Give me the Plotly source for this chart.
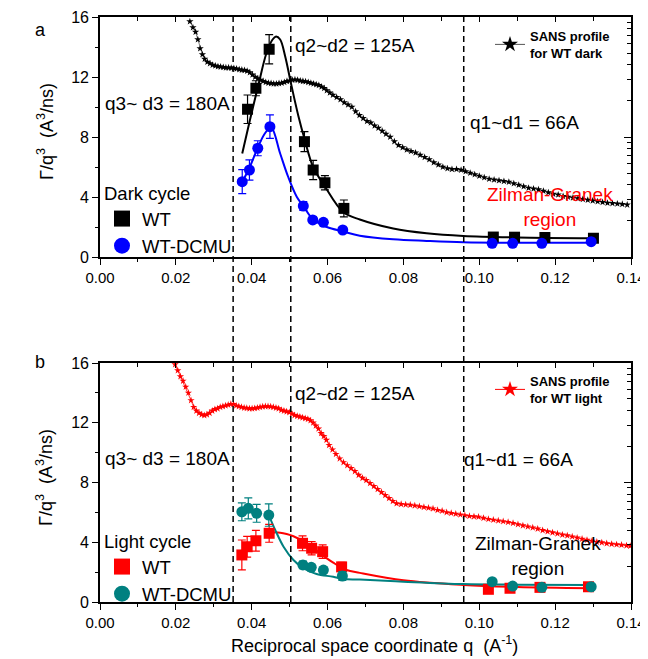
import plotly.graph_objects as go

# ---------------- data ----------------
# Dark cycle (panel a)
dark_wt_q = [0.0389, 0.0411, 0.0446, 0.0539, 0.0562, 0.0593, 0.0643, 0.1037, 0.1093, 0.1173, 0.1301]
dark_wt_y = [9.85, 11.25, 13.85, 7.69, 5.80, 4.95, 3.24, 1.33, 1.32, 1.30, 1.25]
dark_wt_err = [0.95, 0.5, 0.98, 0.67, 0.64, 0.47, 0.56, 0.12, 0.1, 0.1, 0.1]

dark_dcmu_q = [0.0375, 0.0394, 0.0416, 0.0448, 0.0536, 0.0561, 0.0589, 0.0640, 0.1034, 0.1088, 0.1165, 0.1295]
dark_dcmu_y = [5.02, 5.80, 7.25, 8.69, 3.40, 2.47, 2.31, 1.80, 0.91, 0.91, 0.91, 1.02]
dark_dcmu_err = [0.8, 0.67, 0.5, 0.78, 0.3, 0.2, 0.15, 0.15, 0.08, 0.08, 0.08, 0.08]

dark_wt_fit_q = [0.0375, 0.0395, 0.0417, 0.0439, 0.0455, 0.0464, 0.0475, 0.0488, 0.0505, 0.0523,
                 0.0540, 0.0562, 0.0593, 0.0641, 0.0685, 0.0773, 0.0861, 0.0958, 0.1100, 0.1300]
dark_wt_fit_y = [6.9, 9.1, 11.4, 13.6, 14.5, 14.7, 14.5, 13.4, 11.4, 9.4,
                 7.8, 6.0, 4.7, 3.0, 2.5, 1.9, 1.58, 1.4, 1.3, 1.25]

dark_dcmu_fit_q = [0.0375, 0.0395, 0.0417, 0.0435, 0.0451, 0.0475, 0.0496, 0.0519, 0.0536, 0.0562,
                   0.0598, 0.0641, 0.0685, 0.0773, 0.0861, 0.0958, 0.1100, 0.1300]
dark_dcmu_fit_y = [5.0, 6.0, 7.35, 8.25, 8.65, 6.9, 5.35, 4.0, 3.4, 2.5,
                   2.0, 1.7, 1.42, 1.18, 1.07, 0.98, 0.95, 0.95]

sans_dark_q = [0.0237, 0.0245, 0.0252, 0.0258, 0.0264, 0.0270, 0.0276, 0.0283, 0.0290, 0.0297,
               0.0304, 0.0311, 0.0318, 0.0325, 0.0332, 0.0339, 0.0346, 0.0353, 0.0360, 0.0367,
               0.0374, 0.0381, 0.0388, 0.0395, 0.0402, 0.0409, 0.0416, 0.0423, 0.0430, 0.0437,
               0.0444, 0.0451, 0.0458, 0.0465, 0.0472, 0.0479, 0.0486, 0.0493, 0.0500, 0.0507,
               0.0514, 0.0521, 0.0528, 0.0535, 0.0542, 0.0549, 0.0556, 0.0563, 0.0570, 0.0577,
               0.0584, 0.0591, 0.0598, 0.0606, 0.0614, 0.0624, 0.0634, 0.0644, 0.0654, 0.0664,
               0.0674, 0.0684, 0.0694, 0.0704, 0.0714, 0.0724, 0.0734, 0.0744, 0.0754, 0.0765,
               0.0776, 0.0787, 0.0798, 0.0809, 0.0820, 0.0832, 0.0844, 0.0856, 0.0868, 0.0880,
               0.0892, 0.0904, 0.0916, 0.0928, 0.0940, 0.0952, 0.0964, 0.0976, 0.0988, 0.1000,
               0.1013, 0.1026, 0.1039, 0.1052, 0.1065, 0.1078, 0.1091, 0.1104, 0.1117, 0.1130,
               0.1143, 0.1156, 0.1169, 0.1182, 0.1195, 0.1208, 0.1221, 0.1234, 0.1247, 0.1260,
               0.1273, 0.1286, 0.1299, 0.1312, 0.1325, 0.1338, 0.1351, 0.1364, 0.1377, 0.1390]
sans_dark_y = [15.7, 15.3, 15.0, 14.5, 13.9, 13.5, 13.2, 13.0, 12.9, 12.8,
               12.75, 12.7, 12.68, 12.65, 12.62, 12.62, 12.6, 12.58, 12.55, 12.5,
               12.47, 12.45, 12.4, 12.3, 12.15, 12.0, 11.9, 11.8, 11.72, 11.65,
               11.6, 11.58, 11.55, 11.55, 11.58, 11.6, 11.65, 11.72, 11.75, 11.8,
               11.82, 11.8, 11.75, 11.72, 11.7, 11.65, 11.6, 11.55, 11.5, 11.45,
               11.35, 11.25, 11.1, 10.95, 10.8, 10.65, 10.5, 10.3, 10.15, 10.0,
               9.7, 9.45, 9.25, 9.05, 8.95, 8.75, 8.6, 8.4, 8.2, 8.0,
               7.7, 7.45, 7.3, 7.15, 7.05, 6.95, 6.8, 6.65, 6.5, 6.3,
               6.15, 6.0, 5.9, 5.85, 5.85, 5.8, 5.7, 5.6, 5.5, 5.4,
               5.3, 5.2, 5.15, 5.1, 5.05, 5.0, 4.9, 4.8, 4.7, 4.6,
               4.55, 4.5, 4.4, 4.3, 4.2, 4.15, 4.05, 4.0, 3.95, 3.9,
               3.85, 3.8, 3.75, 3.7, 3.65, 3.6, 3.58, 3.55, 3.52, 3.48]

# Light cycle (panel b)
light_wt_q = [0.0374, 0.0388, 0.0411, 0.0446, 0.0534, 0.0558, 0.0587, 0.0637, 0.1024, 0.1081, 0.1160, 0.1288]
light_wt_y = [3.15, 3.70, 4.10, 4.60, 3.93, 3.60, 3.37, 2.35, 0.85, 0.92, 0.98, 1.02]
light_wt_err = [1.0, 0.7, 0.7, 0.6, 0.5, 0.45, 0.45, 0.3, 0.15, 0.12, 0.12, 0.25]

light_dcmu_q = [0.0374, 0.0391, 0.0413, 0.0445, 0.0535, 0.0557, 0.0589, 0.0639, 0.1034, 0.1088, 0.1165, 0.1295]
light_dcmu_y = [6.04, 6.27, 5.94, 5.82, 2.48, 2.32, 2.14, 1.74, 1.36, 1.07, 0.98, 1.02]
light_dcmu_err = [0.6, 0.7, 0.6, 0.75, 0.25, 0.2, 0.2, 0.3, 0.1, 0.1, 0.1, 0.1]

light_wt_fit_q = [0.0444, 0.0460, 0.0475, 0.0492, 0.0510, 0.0545, 0.0580, 0.0615, 0.0650, 0.0685,
                  0.0800, 0.0958, 0.1100, 0.1293]
light_wt_fit_y = [4.6, 4.66, 4.64, 4.55, 4.4, 3.93, 3.26, 2.63, 2.14, 1.95,
                  1.45, 1.14, 1.0, 0.92]

light_dcmu_fit_q = [0.0445, 0.0462, 0.0484, 0.0510, 0.0536, 0.0571, 0.0615, 0.0641, 0.0685, 0.0800,
                    0.0958, 0.1100, 0.1293]
light_dcmu_fit_y = [5.82, 4.82, 3.7, 2.81, 2.26, 1.87, 1.69, 1.54, 1.5, 1.36,
                    1.2, 1.16, 1.14]

sans_light_q = [0.0198, 0.0205, 0.0212, 0.0219, 0.0226, 0.0233, 0.0240, 0.0247, 0.0254, 0.0261,
                0.0268, 0.0275, 0.0282, 0.0289, 0.0296, 0.0303, 0.0310, 0.0317, 0.0324, 0.0331,
                0.0338, 0.0345, 0.0352, 0.0359, 0.0366, 0.0373, 0.0380, 0.0387, 0.0394, 0.0401,
                0.0408, 0.0415, 0.0422, 0.0429, 0.0436, 0.0443, 0.0450, 0.0457, 0.0464, 0.0471,
                0.0478, 0.0485, 0.0492, 0.0499, 0.0506, 0.0513, 0.0520, 0.0527, 0.0534, 0.0541,
                0.0548, 0.0555, 0.0562, 0.0569, 0.0576, 0.0583, 0.0590, 0.0597, 0.0604, 0.0613,
                0.0622, 0.0632, 0.0642, 0.0652, 0.0662, 0.0672, 0.0682, 0.0692, 0.0702, 0.0712,
                0.0722, 0.0732, 0.0742, 0.0752, 0.0762, 0.0772, 0.0782, 0.0794, 0.0806, 0.0818,
                0.0830, 0.0842, 0.0854, 0.0866, 0.0878, 0.0890, 0.0902, 0.0914, 0.0926, 0.0938,
                0.0950, 0.0962, 0.0974, 0.0986, 0.0998, 0.1011, 0.1024, 0.1037, 0.1050, 0.1063,
                0.1076, 0.1089, 0.1102, 0.1115, 0.1128, 0.1141, 0.1154, 0.1167, 0.1180, 0.1193,
                0.1206, 0.1219, 0.1232, 0.1245, 0.1258, 0.1271, 0.1284, 0.1297, 0.1310, 0.1323,
                0.1336, 0.1349, 0.1362, 0.1375, 0.1388, 0.1398]
sans_light_y = [15.9, 15.5, 15.1, 14.8, 14.4, 14.0, 13.5, 13.05, 12.8, 12.65,
                12.55, 12.5, 12.55, 12.65, 12.8, 12.9, 12.95, 13.05, 13.1, 13.15,
                13.2, 13.25, 13.25, 13.15, 13.1, 13.05, 13.0, 12.98, 12.95, 12.95,
                12.97, 13.0, 13.05, 13.08, 13.1, 13.1, 13.08, 13.05, 13.0, 12.95,
                12.85, 12.8, 12.75, 12.7, 12.6, 12.5, 12.45, 12.4, 12.35, 12.3,
                12.25, 12.15, 12.0, 11.8, 11.6, 11.3, 11.1, 10.85, 10.5, 10.2,
                9.9, 9.6, 9.35, 9.15, 8.95, 8.75, 8.5, 8.3, 8.15, 7.95,
                7.75, 7.55, 7.35, 7.15, 6.95, 6.75, 6.6, 6.55, 6.52, 6.5,
                6.45, 6.4, 6.35, 6.3, 6.25, 6.15, 6.1, 6.0, 5.95, 5.9,
                5.85, 5.8, 5.75, 5.72, 5.7, 5.62, 5.55, 5.5, 5.45, 5.4,
                5.35, 5.28, 5.2, 5.12, 5.05, 4.98, 4.9, 4.8, 4.72, 4.65,
                4.58, 4.5, 4.45, 4.38, 4.3, 4.22, 4.15, 4.08, 4.02, 3.98,
                3.92, 3.88, 3.85, 3.82, 3.78, 3.75]

# characteristic q positions (dashed lines)
q_lines = [0.0351, 0.0503, 0.0959]

x_ticks = [0.00, 0.02, 0.04, 0.06, 0.08, 0.10, 0.12, 0.14]
x_ticklabels = ["0.00", "0.02", "0.04", "0.06", "0.08", "0.10", "0.12", "0.14"]
y_ticks = [0, 4, 8, 12, 16]
y_ticklabels = ["0", "4", "8", "12", "16"]

# ---------------- figure ----------------
# the page body has an 8px margin, so the figure is drawn 8px smaller and
# all target window positions are shifted by that offset
OFF = 8
W, H = 648 - OFF, 659 - OFF
FONT = "Liberation Sans, Arial, sans-serif"


def px(x):
    return (x - OFF) / W


def py(y):
    return 1 - (y - OFF) / H


BLACK = "#000000"
BLUE = "#0000FF"
RED = "#FF0000"
TEAL = "#008080"

fig = go.Figure()


def add_panel(xa, ya, data_sets, fits, sans, legend_main, legend_sans, sans_color, sans_line, sans_name, cyc_items):
    # SANS profile
    fig.add_trace(go.Scatter(x=sans[0], y=sans[1], mode="lines+markers", xaxis=xa, yaxis=ya,
                             line=dict(color=sans_line, width=0.8),
                             marker=dict(symbol="star", size=5.5, color=sans_color, line=dict(width=0)),
                             showlegend=False, hoverinfo="skip"))
    # fits
    for (fq, fy, col) in fits:
        fig.add_trace(go.Scatter(x=fq, y=fy, mode="lines", xaxis=xa, yaxis=ya,
                                 line=dict(color=col, width=2, shape="spline", smoothing=1.0),
                                 showlegend=False, hoverinfo="skip"))
    # data with error bars
    for (q, y, e, col, sym) in data_sets:
        fig.add_trace(go.Scatter(x=q, y=y, mode="markers", xaxis=xa, yaxis=ya,
                                 error_y=dict(type="data", array=e, visible=True, color=col,
                                              thickness=1.2, width=4),
                                 marker=dict(symbol=sym, size=11, color=col, line=dict(width=0)),
                                 showlegend=False, hoverinfo="skip"))
    # legend proxies
    for (name, col, sym) in cyc_items:
        fig.add_trace(go.Scatter(x=[None], y=[None], mode="markers", xaxis=xa, yaxis=ya, name=name,
                                 marker=dict(symbol=sym, size=16, color=col, line=dict(width=0)),
                                 legend=legend_main, showlegend=True))
    fig.add_trace(go.Scatter(x=[None], y=[None], mode="lines+markers", xaxis=xa, yaxis=ya, name=sans_name,
                             line=dict(color=sans_line, width=1),
                             marker=dict(symbol="star", size=12, color=sans_color, line=dict(width=0)),
                             legend=legend_sans, showlegend=True))


add_panel("x", "y",
          [(dark_wt_q, dark_wt_y, dark_wt_err, BLACK, "square"),
           (dark_dcmu_q, dark_dcmu_y, dark_dcmu_err, BLUE, "circle")],
          [(dark_wt_fit_q, dark_wt_fit_y, BLACK), (dark_dcmu_fit_q, dark_dcmu_fit_y, BLUE)],
          (sans_dark_q, sans_dark_y), "legend", "legend2", BLACK, "#555555",
          "<b>SANS profile<br>for WT dark</b>",
          [("WT", BLACK, "square"), ("WT-DCMU", BLUE, "circle")])

add_panel("x2", "y2",
          [(light_wt_q, light_wt_y, light_wt_err, RED, "square"),
           (light_dcmu_q, light_dcmu_y, light_dcmu_err, TEAL, "circle")],
          [(light_wt_fit_q, light_wt_fit_y, RED), (light_dcmu_fit_q, light_dcmu_fit_y, TEAL)],
          (sans_light_q, sans_light_y), "legend3", "legend4", RED, RED,
          "<b>SANS profile<br>for WT light</b>",
          [("WT", RED, "square"), ("WT-DCMU", TEAL, "circle")])

# empty traces to activate the mirror axes
for xa, ya in [("x3", "y3"), ("x4", "y4")]:
    fig.add_trace(go.Scatter(x=[], y=[], xaxis=xa, yaxis=ya, showlegend=False, hoverinfo="skip"))

XDOM = [px(100), px(631)]
YDOM_A = [py(257), py(17)]
YDOM_B = [py(602), py(363)]

tickfont = dict(family=FONT, size=15, color="black")


def xaxis_main(anchor):
    return dict(domain=XDOM, anchor=anchor, range=[0, 0.14], tickmode="array", tickvals=x_ticks,
                ticktext=x_ticklabels, ticks="outside", ticklen=6, tickwidth=1.3, tickcolor="black",
                minor=dict(dtick=0.01, tick0=0, ticks="outside", ticklen=3.5, tickwidth=1.3, tickcolor="black"),
                showline=True, linewidth=1.6, linecolor="black", showgrid=False, zeroline=False,
                tickfont=tickfont, automargin=False, fixedrange=True, ticklabeloverflow="allow")


def yaxis_main(anchor, dom):
    return dict(domain=dom, anchor=anchor, range=[0, 16], tickmode="array", tickvals=y_ticks,
                ticktext=y_ticklabels, ticks="outside", ticklen=6, tickwidth=1.3, tickcolor="black",
                minor=dict(dtick=2, tick0=0, ticks="outside", ticklen=3.5, tickwidth=1.3, tickcolor="black"),
                showline=True, linewidth=1.6, linecolor="black", showgrid=False, zeroline=False,
                tickfont=dict(family=FONT, size=16, color="black"), automargin=False, fixedrange=True,
                ticklabeloverflow="allow")


def xaxis_top(overlay, anchor):
    return dict(overlaying=overlay, anchor=anchor, side="top", range=[0, 0.14], dtick=0.02, tick0=0,
                ticks="inside", ticklen=5, tickwidth=1.3, tickcolor="black", showticklabels=False,
                minor=dict(dtick=0.01, tick0=0, ticks="inside", ticklen=4, tickwidth=1.3, tickcolor="black"),
                showline=True, linewidth=1.6, linecolor="black", showgrid=False, zeroline=False,
                automargin=False, fixedrange=True)


def yaxis_right(overlay, anchor):
    return dict(overlaying=overlay, anchor=anchor, side="right", type="log", range=[0, 2], dtick=1,
                ticks="inside", ticklen=7, tickwidth=1.3, tickcolor="black", showticklabels=False,
                minor=dict(dtick="D1", ticks="inside", ticklen=4, tickwidth=1.3, tickcolor="black"),
                showline=True, linewidth=1.6, linecolor="black", showgrid=False, zeroline=False,
                automargin=False, fixedrange=True)


shapes = []
for q in q_lines:
    shapes.append(dict(type="line", xref="x", yref="paper", x0=q, x1=q, y0=py(602), y1=py(17),
                       line=dict(color="black", width=1.5, dash="6px,4px"), layer="above"))

ann_font = dict(family=FONT, size=19, color="black")
annotations = []


def ann(text, x, y, xanchor="left", font=ann_font, align="left", **kw):
    annotations.append(dict(text=text, x=px(x), y=py(y), xref="paper", yref="paper",
                            xanchor=xanchor, yanchor="middle", showarrow=False, font=font,
                            align=align, **kw))


for top, lab in [(0, "a"), (332, "b")]:
    ann(lab, 40, 30 + top, xanchor="center", font=dict(family=FONT, size=18, color="black"))

# panel a texts
ann("q3~ d3 = 180A", 103, 103)
ann("q2~d2 = 125A", 293, 45)
ann("q1~d1 = 66A", 468, 123)
ann("Zilman-Granek<br>region", 550, 207, xanchor="center", align="center",
    font=dict(family=FONT, size=19, color=RED))
# panel b texts
ann("q3~ d3 = 180A", 103, 458)
ann("q2~d2 = 125A", 293, 393)
ann("q1~d1 = 66A", 462, 460)
ann("Zilman-Granek<br>region", 538, 556, xanchor="center", align="center",
    font=dict(family=FONT, size=19, color="black"))

# axis titles
for yc in [132, 478]:
    annotations.append(dict(text="Γ/q<sup>3</sup>  (A<sup>3</sup>/ns)", x=px(45), y=py(yc),
                            xref="paper", yref="paper", xanchor="center", yanchor="middle",
                            textangle=-90, showarrow=False, font=dict(family=FONT, size=18, color="black")))
ann("Reciprocal space coordinate q  (A<sup>-1</sup>)", 374, 644, xanchor="center",
    font=dict(family=FONT, size=18, color="black"))

leg_common = dict(xanchor="left", yanchor="top", bgcolor="rgba(0,0,0,0)", borderwidth=0,
                  itemwidth=30, tracegroupgap=0, orientation="v")

fig.update_layout(
    width=W, height=H, margin=dict(l=0, r=0, t=0, b=0),
    paper_bgcolor="white", plot_bgcolor="white",
    font=dict(family=FONT, color="black"),
    xaxis=xaxis_main("y"), yaxis=yaxis_main("x", YDOM_A),
    xaxis2=xaxis_main("y2"), yaxis2=yaxis_main("x2", YDOM_B),
    xaxis3=xaxis_top("x", "y"), yaxis3=yaxis_right("y", "x"),
    xaxis4=xaxis_top("x2", "y2"), yaxis4=yaxis_right("y2", "x2"),
    shapes=shapes, annotations=annotations,
    legend=dict(x=px(102), y=py(176), title=dict(text="Dark cycle", font=dict(family=FONT, size=18.5)),
                font=dict(family=FONT, size=18.5, color="black"), **leg_common),
    legend2=dict(x=px(490), y=py(21), font=dict(family=FONT, size=13, color="black"), **leg_common),
    legend3=dict(x=px(102), y=py(524), title=dict(text="Light cycle", font=dict(family=FONT, size=18.5)),
                 font=dict(family=FONT, size=18.5, color="black"), **leg_common),
    legend4=dict(x=px(490), y=py(366), font=dict(family=FONT, size=13, color="black"), **leg_common),
    showlegend=True,
)

fig.write_html("out.html")
